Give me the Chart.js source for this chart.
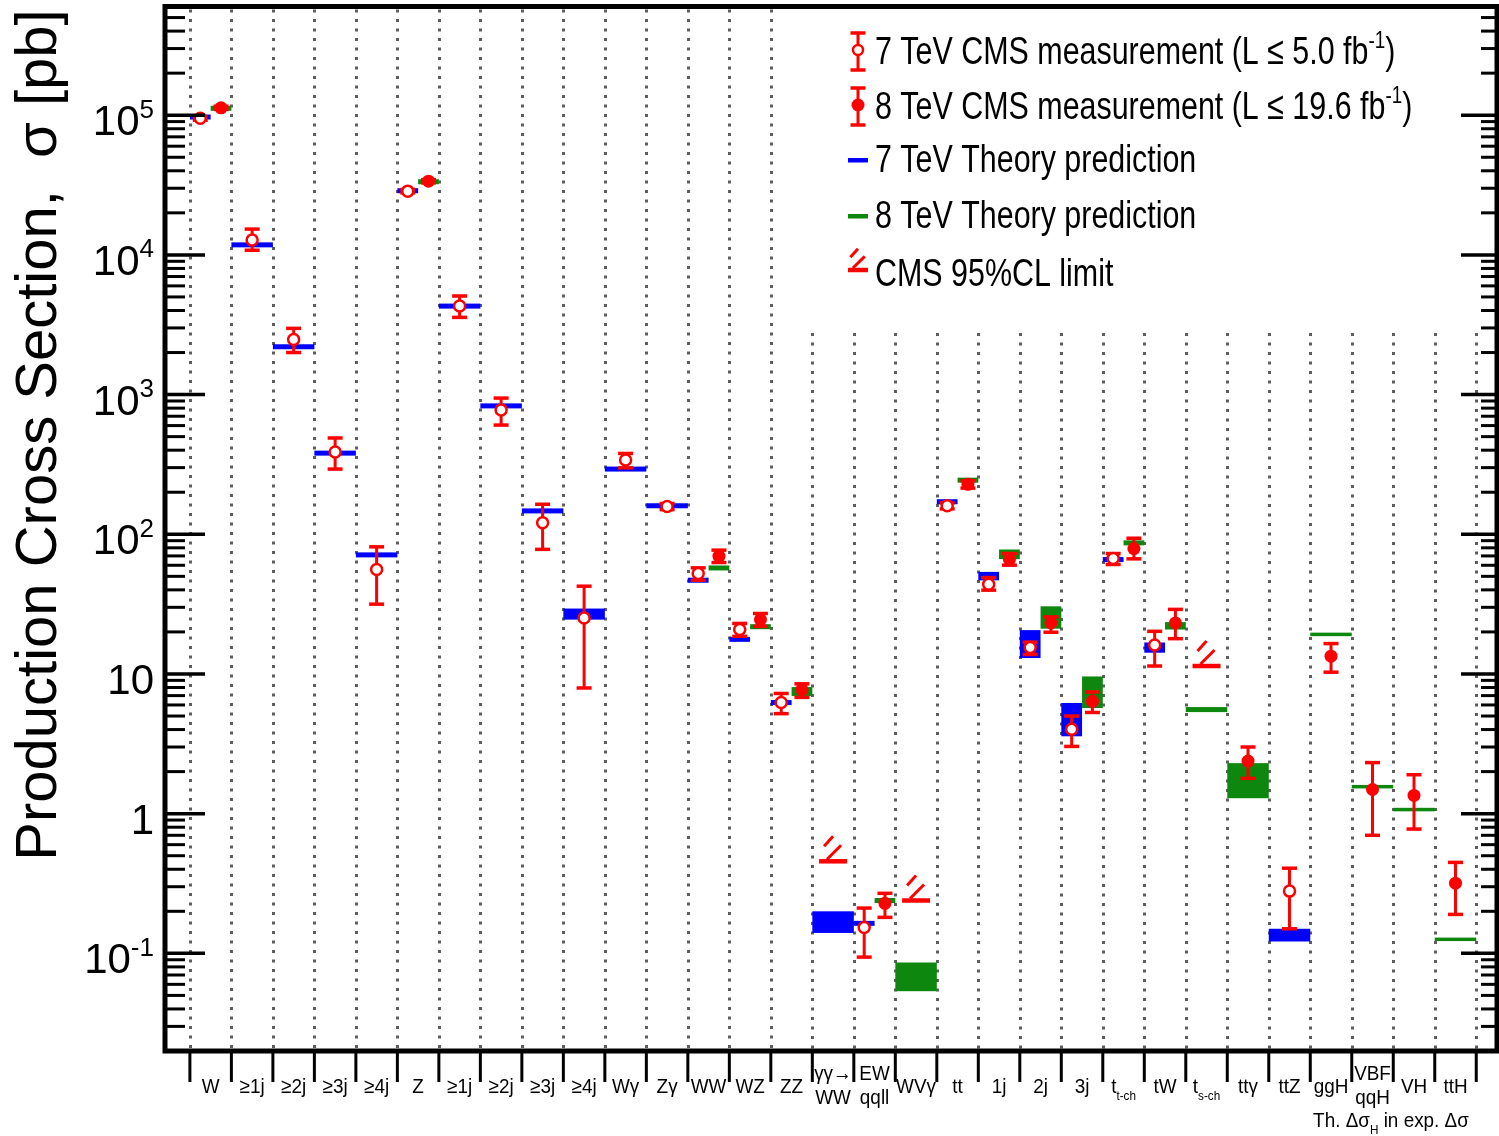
<!DOCTYPE html>
<html>
<head>
<meta charset="utf-8">
<script src="https://cdn.jsdelivr.net/npm/chart.js@4.4.1/dist/chart.umd.min.js"></script>
<style>
  html, body { margin: 0; padding: 0; background: #ffffff; }
  canvas { display: block; }
</style>
</head>
<body>
<canvas id="xsec" width="1499" height="1136"></canvas>
<script>
// ---- Categories (x axis); "\n" splits a label into two lines, _{..} is a subscript ----
const categories = ['W', '≥1j', '≥2j', '≥3j', '≥4j', 'Z', '≥1j', '≥2j', '≥3j', '≥4j',
  'Wγ', 'Zγ', 'WW', 'WZ', 'ZZ', 'γγ→\nWW', 'EW\nqqll', 'WVγ', 'tt', '1j', '2j', '3j',
  't_{t-ch}', 'tW', 't_{s-ch}', 'ttγ', 'ttZ', 'ggH', 'VBF\nqqH', 'VH', 'ttH'];

// ---- Measurements [pb] ----
const meas7   = [9.5e4, 1.28e4, 2.48e3, 388, 56, 2.86e4, 4.3e3, 777, 121, 25.2, 340, 158, 52.4, 20.8, 6.24, null, 0.153, null, 160, 43.8, 15.5, 4.02, 67.2, 16.1, null, null, 0.279, null, null, null, null];
const meas7Lo = [9.2e4, 1.08e4, 2.0e3, 293, 31.6, 2.78e4, 3.57e3, 605, 78, 7.94, 299, 150, 46.9, 18.6, 5.2, null, 0.094, null, 152, 39.8, 13.8, 3.03, 60.8, 11.4, null, null, 0.150, null, null, null, null];
const meas7Hi = [9.8e4, 1.53e4, 2.98e3, 489, 81.3, 2.94e4, 5.08e3, 944, 164, 42.5, 379, 166, 57.5, 23.0, 7.25, null, 0.211, null, 168, 49.0, 16.9, 5.0, 72.8, 20.2, null, null, 0.407, null, null, null, null];

const meas8   = [1.13e5, null, null, null, null, 3.37e4, null, null, null, null, null, null, 69.7, 24.5, 7.73, null, 0.228, null, 228, 66, 23.2, 6.37, 79, 23.2, null, 2.38, null, 13.4, 1.49, 1.35, 0.318];
const meas8Lo = [1.10e5, null, null, null, null, 3.28e4, null, null, null, null, null, null, 62.8, 21.9, 6.8, null, 0.181, null, 214, 60.1, 19.9, 5.3, 66.7, 17.9, null, 1.79, null, 10.3, 0.70, 0.776, 0.19];
const meas8Hi = [1.16e5, null, null, null, null, 3.46e4, null, null, null, null, null, null, 77, 27.1, 8.5, null, 0.269, null, 242, 72.8, 25.6, 7.43, 93.7, 29, null, 3.0, null, 16.5, 2.32, 1.90, 0.448];

// ---- Theory predictions [pb] with uncertainty band ----
const theory7   = [9.7e4, 1.18e4, 2.2e3, 381, 71.2, 2.88e4, 4.3e3, 830, 147, 26.9, 293, 160, 46.9, 17.7, 6.24, 0.168, 0.164, null, 171, 50.2, 16.4, 4.7, 65.9, 15.5, null, null, 0.135, null, null, null, null];
const theory7Lo = [9.7e4, 1.18e4, 2.2e3, 381, 71.2, 2.88e4, 4.3e3, 830, 147, 24.5, 293, 160, 46.9, 17.7, 6.24, 0.14, 0.164, null, 171, 46.8, 13.0, 3.58, 65.9, 14.2, null, null, 0.1216, null, null, null, null];
const theory7Hi = [9.7e4, 1.18e4, 2.2e3, 381, 71.2, 2.88e4, 4.3e3, 830, 147, 29.4, 293, 160, 46.9, 17.7, 6.24, 0.20, 0.164, null, 171, 53.8, 20.6, 6.2, 65.9, 16.8, null, null, 0.150, null, null, null, null];

const theory8   = [1.12e5, null, null, null, null, 3.34e4, null, null, null, null, null, null, 57.4, 21.8, 7.56, null, 0.239, 0.068, 244, 72, 25.4, 7.4, 86.8, 22.2, 5.56, 1.72, null, 19.2, 1.56, 1.07, 0.126];
const theory8Lo = [1.12e5, null, null, null, null, 3.34e4, null, null, null, null, null, null, 57.4, 21.8, 6.96, null, 0.239, 0.0536, 244, 66.4, 21.1, 5.7, 86.8, 20.8, 5.56, 1.29, null, 19.2, 1.56, 1.07, 0.126];
const theory8Hi = [1.12e5, null, null, null, null, 3.34e4, null, null, null, null, null, null, 57.4, 21.8, 8.06, null, 0.239, 0.086, 244, 77.8, 30.5, 9.6, 86.8, 23.5, 5.56, 2.3, null, 19.2, 1.56, 1.07, 0.126];

// ---- CMS 95% CL upper limits [pb] ----
const limit95 = [null, null, null, null, null, null, null, null, null, null, null, null, null, null, null, 0.456, null, 0.239, null, null, null, null, null, null, 11.4, null, null, null, null, null, null];

// Higgs channels: theory uncertainty is folded into the measurement, drawn as a thin line
const higgsFirst = 27;

// ---- y-axis tick decades ----
const yDecades = [-1, 0, 1, 2, 3, 4, 5];

const RED = '#ff0000', BLUE = '#0000ff', GREEN = '#0e870e';
const SANS = '"Liberation Sans", Arial, Helvetica, sans-serif';

function isSplit(i) { return theory7[i] != null && theory8[i] != null; }
function pos7(i) { return isSplit(i) ? i + 0.25 : i + 0.5; }
function pos8(i) { return isSplit(i) ? i + 0.75 : i + 0.5; }

function points(vals, posFn) {
  const out = [];
  vals.forEach((v, i) => { if (v != null) out.push({ x: posFn(i), y: v }); });
  return out;
}

// ---- text helpers: runs of text with optional super/subscripts ----
function parseRuns(str, size) {
  const runs = [];
  const re = /(\^|_)\{([^}]*)\}/g;
  let last = 0, m;
  while ((m = re.exec(str)) !== null) {
    if (m.index > last) runs.push({ t: str.slice(last, m.index), size: size, dy: 0 });
    if (m[1] === '^') runs.push({ t: m[2], size: size * 0.62, dy: -size * 0.42 });
    else runs.push({ t: m[2], size: size * 0.62, dy: size * 0.32 });
    last = re.lastIndex;
  }
  if (last < str.length) runs.push({ t: str.slice(last), size: size, dy: 0 });
  return runs;
}
function runsWidth(ctx, runs) {
  let w = 0;
  runs.forEach(r => { ctx.font = r.size + 'px ' + SANS; w += ctx.measureText(r.t).width; });
  return w;
}
function drawText(ctx, str, x, y, size, align, squeeze, color) {
  const runs = parseRuns(str, size);
  const w = runsWidth(ctx, runs) * squeeze;
  const x0 = align === 'center' ? x - w / 2 : (align === 'right' ? x - w : x);
  ctx.save();
  ctx.translate(x0, y);
  ctx.scale(squeeze, 1);
  ctx.textAlign = 'left';
  ctx.textBaseline = 'alphabetic';
  ctx.fillStyle = color || '#000';
  let cx = 0;
  runs.forEach(r => {
    ctx.font = r.size + 'px ' + SANS;
    ctx.fillText(r.t, cx, r.dy);
    cx += ctx.measureText(r.t).width;
  });
  ctx.restore();
}

function line(ctx, x1, y1, x2, y2) {
  ctx.beginPath(); ctx.moveTo(x1, y1); ctx.lineTo(x2, y2); ctx.stroke();
}

function drawErrorBar(ctx, x, yHi, yLo) {
  ctx.strokeStyle = RED;
  ctx.lineWidth = 3;
  line(ctx, x, yHi, x, yLo);
  ctx.lineWidth = 3.5;
  line(ctx, x - 7.5, yHi, x + 7.5, yHi);
  line(ctx, x - 7.5, yLo, x + 7.5, yLo);
}

function drawLimit(ctx, cx, y, halfW, k) {
  ctx.strokeStyle = RED;
  ctx.lineWidth = 4.5;
  line(ctx, cx - halfW, y, cx + halfW, y);
  ctx.lineWidth = 3;
  line(ctx, cx - 6 * k, y - 2, cx + 8 * k, y - 16 * k);
  line(ctx, cx - 9 * k, y - 15 * k, cx, y - 25 * k);
}

const decor = {
  id: 'decor',
  beforeDatasetsDraw(chart) {
    const ctx = chart.ctx, xs = chart.scales.x, ys = chart.scales.y, a = chart.chartArea;
    ctx.save();
    // dotted category separators (shortened below the legend on the right)
    const legendBottom = 333;
    ctx.strokeStyle = '#5e5e5e';
    ctx.lineWidth = 3;
    ctx.setLineDash([3, 6.5]);
    for (let i = 0; i <= categories.length; i++) {
      const x = Math.round(xs.getPixelForValue(i)) + 0.5;
      const yTop = i >= 15 ? legendBottom : a.top + 3;
      line(ctx, x, yTop, x, a.bottom);
    }
    ctx.setLineDash([]);

    // theory bands
    function band(i, v, lo, hi, x0, x1, color) {
      const px0 = xs.getPixelForValue(x0), px1 = xs.getPixelForValue(x1);
      let yHi = ys.getPixelForValue(hi), yLo = ys.getPixelForValue(lo);
      const yc = ys.getPixelForValue(v);
      const minT = i >= higgsFirst ? 3.5 : 5;
      if (yLo - yHi < minT) { yHi = yc - minT / 2; yLo = yc + minT / 2; }
      ctx.fillStyle = color;
      ctx.fillRect(px0, yHi, px1 - px0, yLo - yHi);
    }
    categories.forEach((c, i) => {
      const split = isSplit(i);
      if (theory7[i] != null) band(i, theory7[i], theory7Lo[i], theory7Hi[i], i, split ? i + 0.5 : i + 1, BLUE);
      if (theory8[i] != null) band(i, theory8[i], theory8Lo[i], theory8Hi[i], split ? i + 0.5 : i, i + 1, GREEN);
    });

    // limits
    limit95.forEach((v, i) => {
      if (v == null) return;
      drawLimit(ctx, xs.getPixelForValue(i + 0.5), ys.getPixelForValue(v), 14, 1);
    });

    // error bars
    categories.forEach((c, i) => {
      if (meas7[i] != null) drawErrorBar(ctx, xs.getPixelForValue(pos7(i)), ys.getPixelForValue(meas7Hi[i]), ys.getPixelForValue(meas7Lo[i]));
      if (meas8[i] != null) drawErrorBar(ctx, xs.getPixelForValue(pos8(i)), ys.getPixelForValue(meas8Hi[i]), ys.getPixelForValue(meas8Lo[i]));
    });
    ctx.restore();
  },
  afterDraw(chart) {
    const ctx = chart.ctx, xs = chart.scales.x, ys = chart.scales.y, a = chart.chartArea;
    ctx.save();
    ctx.strokeStyle = '#000';
    // y ticks, both sides, pointing inwards
    const yMin = ys.min, yMax = ys.max;
    for (let p = -2; p <= 5; p++) {
      for (let k = 1; k <= 9; k++) {
        const v = k * Math.pow(10, p);
        if (v <= yMin * 1.0001 || v >= yMax * 0.9999) continue;
        const y = ys.getPixelForValue(v);
        ctx.lineWidth = k === 1 ? 3.5 : 3;
        line(ctx, a.left, y, a.left + (k === 1 ? 40 : 20), y);
        line(ctx, a.right, y, a.right - (k === 1 ? 36 : 16), y);
      }
    }
    // x ticks below the axis at the category boundaries
    ctx.lineWidth = 3;
    for (let i = 0; i <= categories.length; i++) {
      const x = xs.getPixelForValue(i);
      line(ctx, x, a.bottom, x, a.bottom + 31);
    }
    // frame
    ctx.lineWidth = 5;
    ctx.strokeRect(a.left, a.top, a.right - a.left, a.bottom - a.top);

    // y tick labels
    yDecades.forEach(p => {
      const y = ys.getPixelForValue(Math.pow(10, p)) + 20;
      let s;
      if (p === 0) s = '1';
      else if (p === 1) s = '10';
      else s = '10^{' + (p < 0 ? '-' : '') + Math.abs(p) + '}';
      drawText(ctx, s, 154, y, 42, 'right', 1.0, '#000');
    });

    // category labels
    categories.forEach((c, i) => {
      const x = xs.getPixelForValue(i + 0.5);
      const lines = c.split('\n');
      if (lines.length === 1) drawText(ctx, lines[0], x, 1093, 21, 'center', 0.9, '#000');
      else {
        drawText(ctx, lines[0], x, 1080, 21, 'center', 0.9, '#000');
        drawText(ctx, lines[1], x, 1104, 21, 'center', 0.9, '#000');
      }
    });
    drawText(ctx, 'Th. Δσ_{H} in exp. Δσ', 1391, 1127, 21, 'center', 0.9, '#000');

    // axis title
    ctx.save();
    ctx.translate(56, 435);
    ctx.rotate(-Math.PI / 2);
    drawText(ctx, 'Production Cross Section,  σ [pb]', 0, 0, 58, 'center', 1.0, '#000');
    ctx.restore();

    // legend
    const lx = 858, tx = 875, ls = 39, sq = 0.78;
    // 7 TeV measurement
    drawErrorBar(ctx, lx, 33, 70);
    ctx.beginPath(); ctx.arc(lx, 50, 5, 0, Math.PI * 2);
    ctx.fillStyle = '#fff'; ctx.fill(); ctx.lineWidth = 2.5; ctx.strokeStyle = RED; ctx.stroke();
    drawText(ctx, '7 TeV CMS measurement (L ≤ 5.0 fb^{-1})', tx, 64, ls, 'left', sq, '#000');
    // 8 TeV measurement
    drawErrorBar(ctx, lx, 88, 125);
    ctx.beginPath(); ctx.arc(lx, 105, 6.5, 0, Math.PI * 2); ctx.fillStyle = RED; ctx.fill();
    drawText(ctx, '8 TeV CMS measurement (L ≤ 19.6 fb^{-1})', tx, 119, ls, 'left', sq, '#000');
    // theory
    ctx.fillStyle = BLUE; ctx.fillRect(848, 158, 20, 4.5);
    drawText(ctx, '7 TeV Theory prediction', tx, 172, ls, 'left', sq, '#000');
    ctx.fillStyle = GREEN; ctx.fillRect(848, 214, 20, 4.5);
    drawText(ctx, '8 TeV Theory prediction', tx, 228, ls, 'left', sq, '#000');
    // limit
    drawLimit(ctx, 858, 270, 10, 0.85);
    drawText(ctx, 'CMS 95%CL limit', tx, 286, ls, 'left', sq, '#000');
    ctx.restore();
  }
};

new Chart(document.getElementById('xsec'), {
  type: 'scatter',
  data: {
    datasets: [
      {
        label: '7 TeV CMS measurement',
        data: points(meas7, pos7),
        pointStyle: 'circle',
        pointRadius: 5.5,
        pointBorderWidth: 2.5,
        pointBorderColor: RED,
        pointBackgroundColor: '#ffffff',
        showLine: false
      },
      {
        label: '8 TeV CMS measurement',
        data: points(meas8, pos8),
        pointStyle: 'circle',
        pointRadius: 6.5,
        pointBorderWidth: 0,
        pointBorderColor: RED,
        pointBackgroundColor: RED,
        showLine: false
      }
    ]
  },
  options: {
    responsive: false,
    devicePixelRatio: 1,
    animation: false,
    layout: { autoPadding: false, padding: { left: 165, top: 6.5, right: 2, bottom: 85 } },
    plugins: { legend: { display: false }, tooltip: { enabled: false } },
    scales: {
      x: { type: 'linear', min: -0.6, max: 31.5, display: false },
      y: { type: 'logarithmic', min: 0.02, max: 6e5, display: false }
    }
  },
  plugins: [decor]
});
</script>
</body>
</html>
